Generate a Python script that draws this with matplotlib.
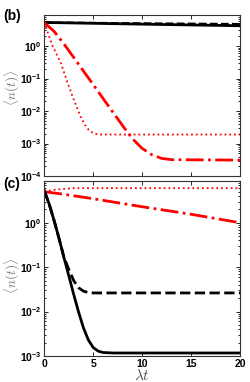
import numpy as np
import matplotlib
matplotlib.use('Agg')
import matplotlib.pyplot as plt

plt.rcParams['font.family'] = ['Liberation Sans', 'DejaVu Sans']
plt.rcParams['mathtext.fontset'] = 'custom'
plt.rcParams['mathtext.rm'] = 'Liberation Sans'
plt.rcParams['mathtext.bf'] = 'Liberation Sans:bold'

# panel (b) curves
t_b_black = [0, 10, 20]
b_solid = [5.3, 4.7, 4.2]
b_dashed = [5.3, 5.0, 4.75]
t_b_dot = [0, 0.8, 1.7, 2.4, 3.0, 3.7, 4.2, 4.6, 5.0, 5.5, 20]
b_dot = [5.25, 1.07, 0.295, 0.0708, 0.0229, 6.8e-3, 3.55e-3, 2.5e-3, 2.1e-3, 1.9e-3, 1.9e-3]
t_b_dashdot = [0, 1, 2, 3, 4, 5, 6, 7, 8, 9, 10, 11, 12, 13, 20]
b_dashdot = [5.25, 2.82, 1.17, 0.447, 0.17, 0.0646, 0.0245, 9.3e-3, 3.55e-3,
             1.41e-3, 7.1e-4, 4.5e-4, 3.5e-4, 3.2e-4, 3.1e-4]

# panel (c) curves
t_c_solid = [0, 0.5, 1, 1.5, 2, 2.5, 3, 3.5, 4, 4.5, 5, 5.5, 6, 7, 20]
c_solid = [5.25, 2.63, 1.12, 0.447, 0.166, 0.0646, 0.0245, 9.8e-3, 4.3e-3,
           2.3e-3, 1.55e-3, 1.29e-3, 1.2e-3, 1.17e-3, 1.17e-3]
t_c_dashed = [0, 0.5, 1, 1.5, 2, 2.5, 3, 3.5, 4, 4.5, 5, 20]
c_dashed = [5.25, 2.63, 1.12, 0.447, 0.17, 0.089, 0.050, 0.0345, 0.0288,
            0.0269, 0.0263, 0.0263]
t_c_dot = [0, 1, 2, 3, 20]
c_dot = [5.0, 5.5, 5.75, 6.0, 6.0]
t_c_dashdot = [0, 2, 5, 10, 15, 20]
c_dashdot = [5.0, 4.37, 3.47, 2.29, 1.55, 1.0]

x_ticks = [0, 5, 10, 15, 20]
b_yticks = [1e-4, 1e-3, 1e-2, 1e-1, 1e0]
b_yticklabels = [r'$\mathbf{10^{-4}}$', r'$\mathbf{10^{-3}}$', r'$\mathbf{10^{-2}}$',
                 r'$\mathbf{10^{-1}}$', r'$\mathbf{10^{0}}$']
c_yticks = [1e-3, 1e-2, 1e-1, 1e0]
c_yticklabels = [r'$\mathbf{10^{-3}}$', r'$\mathbf{10^{-2}}$',
                 r'$\mathbf{10^{-1}}$', r'$\mathbf{10^{0}}$']

fig = plt.figure(figsize=(2.51, 3.82), dpi=100)
ax_b = fig.add_axes([0.1765, 0.539, 0.78, 0.423])
ax_c = fig.add_axes([0.1765, 0.068, 0.78, 0.457])

ax_b.plot(t_b_black, b_dashed, color='k', ls='--', lw=1.5)
ax_b.plot(t_b_black, b_solid, color='k', ls='-', lw=2)
ax_b.plot(t_b_dot, b_dot, color='r', ls=':', lw=1.3)
ax_b.plot(t_b_dashdot, b_dashdot, color='r', ls='-.', lw=2)

ax_c.plot(t_c_dot, c_dot, color='r', ls=':', lw=1.3)
ax_c.plot(t_c_dashdot, c_dashdot, color='r', ls='-.', lw=2)
ax_c.plot(t_c_dashed, c_dashed, color='k', ls='--', lw=2)
ax_c.plot(t_c_solid, c_solid, color='k', ls='-', lw=2)

for ax, yt, ytl, ylo, yhi, ly in [(ax_b, b_yticks, b_yticklabels, 1e-4, 9.3, 0.545),
                                  (ax_c, c_yticks, c_yticklabels, 1e-3, 8.5, 0.46)]:
    ax.set_yscale('log')
    ax.set_xlim(0, 20)
    ax.set_ylim(ylo, yhi)
    ax.set_xticks(x_ticks)
    ax.set_yticks(yt)
    ax.set_yticklabels(ytl)
    ax.tick_params(which='both', direction='in', top=True, right=True, width=0.6)
    ax.tick_params(which='major', length=3, labelsize=7.5, pad=2)
    ax.tick_params(which='minor', length=1.5)
    for sp in ax.spines.values():
        sp.set_linewidth(0.8)
        sp.set_color('0.2')
    ax.set_ylabel(r'$\langle n(t)\rangle$', fontsize=9.5, color='0.45',
                  math_fontfamily='cm')
    ax.yaxis.set_label_coords(-0.115, ly)

ax_b.set_xticklabels([])
for lab in ax_c.get_xticklabels():
    lab.set_fontweight('bold')
ax_c.set_xlabel(r'$\lambda t$', fontsize=11, color='0.3', math_fontfamily='cm', labelpad=0)

fig.text(0.012, 0.957, '(b)', fontsize=10, fontweight='bold', va='center')
fig.text(0.012, 0.518, '(c)', fontsize=10, fontweight='bold', va='center')

fig.savefig('out.png', dpi=100)
